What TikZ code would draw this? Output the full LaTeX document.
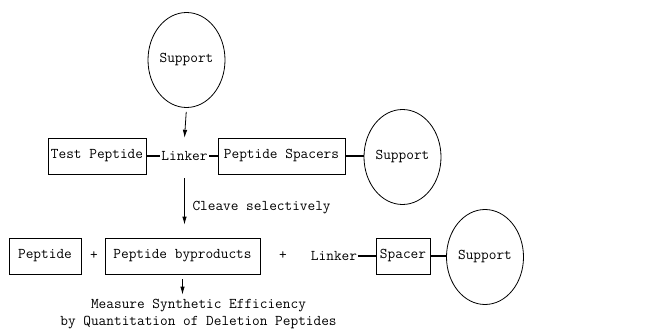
\documentclass[tikz,border=0pt]{standalone}
\usepackage{fontspec}
\usepackage{tikz}
\usetikzlibrary{arrows.meta,shapes.geometric}

\begin{document}
\begin{tikzpicture}[
    x=1pt, y=-1pt,
    every node/.style={font=\ttfamily\fontsize{14.9}{17}\selectfont},
    box/.style={rectangle, draw, line width=0.8pt, minimum height=36pt, inner xsep=2pt},
    resin/.style={ellipse, draw, line width=0.8pt, minimum width=77pt, minimum height=95pt, inner sep=0pt},
    link/.style={line width=1.4pt},
    arrow/.style={-{Latex[length=8pt,width=4.5pt]}, line width=0.8pt}
]
    \useasboundingbox (0,0) rectangle (645,329);

    % Nodes
    \node[resin] (support1) at (186.5,60) {Support};
    \node[box, minimum width=98pt] (test) at (97,156) {Test Peptide};
    \node[inner sep=1.5pt, minimum height=36pt] (linker1) at (184.5,156) {Linker};
    \node[box, minimum width=127pt] (spacers) at (281.5,156) {Peptide Spacers};
    \node[resin] (support2) at (402.5,157) {Support};
    \node[anchor=west] (cleave) at (189,208) {Cleave selectively};

    \node[box, minimum width=72pt] (peptide) at (45,256) {Peptide};
    \node (plus1) at (94,256) {+};
    \node[box, minimum width=155pt] (byprod) at (182.5,256) {Peptide byproducts};
    \node (plus2) at (283,256) {+};
    \node[inner sep=1pt] (linker2) at (334,256) {Linker};
    \node[box, minimum width=54pt] (spacer) at (403,256) {Spacer};
    \node[resin] (support3) at (485,257) {Support};
    \node[align=center] (efficiency) at (198.5,314) {Measure Synthetic Efficiency\\by Quantitation of Deletion Peptides};

    % Links
    \draw[link] (test) -- (linker1);
    \draw[link] (linker1) -- (spacers);
    \draw[link] (spacers.east) -- (spacers.east -| support2.west);
    \draw[link] (linker2) -- (spacer);
    \draw[link] (spacer.east) -- (spacer.east -| support3.west);

    % Arrows
    \draw[arrow, shorten <=4pt] (support1.south) -- (linker1.north);
    \draw[arrow, shorten <=4pt, shorten >=13pt] (linker1.south) -- (linker1.south |- byprod.north);
    \draw[arrow, shorten <=5pt, shorten >=1pt] (byprod.south) -- (byprod.south |- efficiency.north);
\end{tikzpicture}
\end{document}
